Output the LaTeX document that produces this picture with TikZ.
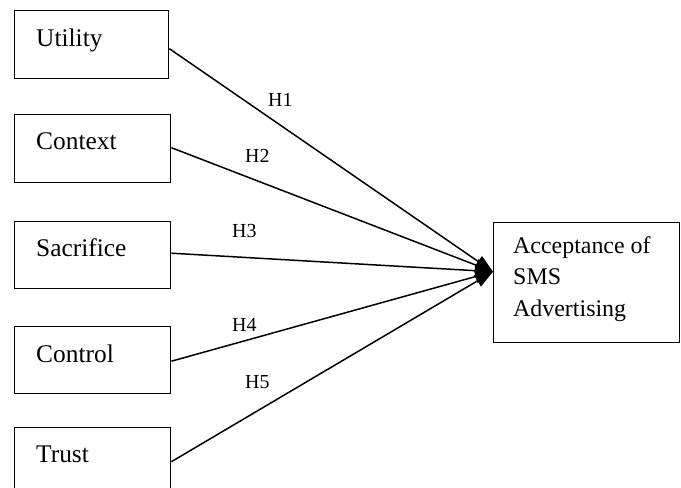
\documentclass[tikz,border=0pt]{standalone}
\usepackage{fontspec}
\setmainfont{Liberation Serif}
\usetikzlibrary{arrows.meta}
\begin{document}
\begin{tikzpicture}[x=1bp,y=-1bp,
  box/.style={draw=black, line width=1.4bp, rectangle, inner sep=0pt, anchor=north west},
  lbl/.style={anchor=base west, inner sep=0pt, font=\fontsize{25.5}{31.5}\selectfont},
  hyp/.style={anchor=base west, inner sep=0pt, font=\fontsize{20}{23}\selectfont},
  conn/.style={line width=1.5bp, -{Triangle[length=18bp,width=13bp]}}
]
\useasboundingbox (0,0) rectangle (681,488);
% left boxes
\node[box, minimum width=154bp, minimum height=68bp] (u) at (14,10) {};
\node[box, minimum width=156bp, minimum height=68bp] (c) at (14,114) {};
\node[box, minimum width=156bp, minimum height=67bp] (s) at (14,221) {};
\node[box, minimum width=156bp, minimum height=67bp] (k) at (14,326) {};
\node[box, minimum width=156bp, minimum height=68bp] (t) at (14,427) {};
\node[lbl] (ut) at (36,47) {Utility};
\node[lbl] (ct) at (36,150) {Context};
\node[lbl] (st) at (36,257) {Sacrifice};
\node[lbl] (kt) at (36,362) {Control};
\node[lbl] (tt) at (36,462) {Trust};
% right box
\node[box, minimum width=186bp, minimum height=120bp] (a) at (493,222) {};
\node[anchor=base west, inner sep=0pt, align=left, font=\fontsize{24}{31.5}\selectfont] (at) at (513,316) {Acceptance of\\SMS\\Advertising};
\coordinate (tip) at ([yshift=11bp]a.west);
% connectors
\draw[conn] ([yshift=-4bp]u.east) -- (tip);
\draw[conn] ([yshift=1bp]c.east) -- (tip);
\draw[conn] ([yshift=2bp]s.east) -- (tip);
\draw[conn] ([yshift=-1bp]k.east) -- (tip);
\draw[conn] (t.east) -- (tip);
% hypothesis labels
\node[hyp] (h1) at (268,107) {H1};
\node[hyp] (h2) at (245,163) {H2};
\node[hyp] (h3) at (232,238) {H3};
\node[hyp] (h4) at (232,331) {H4};
\node[hyp] (h5) at (245,388) {H5};
\end{tikzpicture}
\end{document}
